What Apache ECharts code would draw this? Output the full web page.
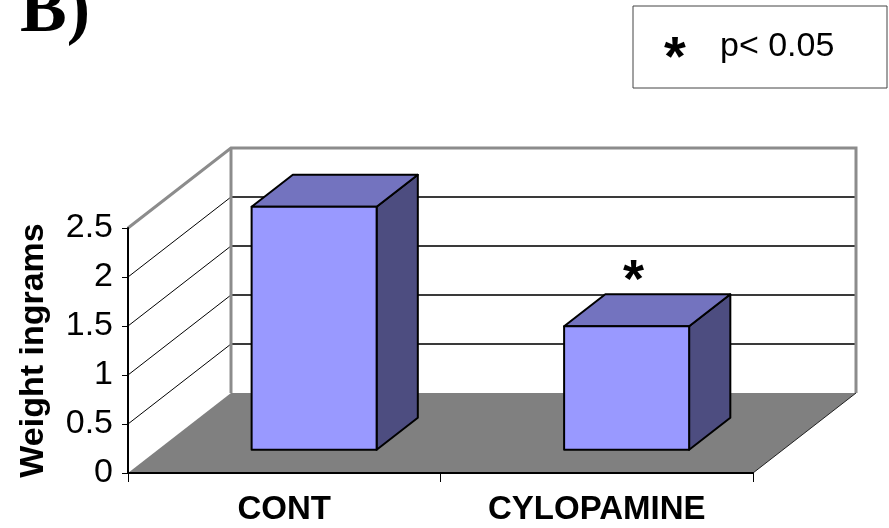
<!DOCTYPE html>
<html><head><meta charset="utf-8">
<script src="https://cdn.jsdelivr.net/npm/echarts@6/dist/echarts.min.js"></script>
<style>html,body{margin:0;padding:0;background:#fff}#c{width:889px;height:528px}</style>
</head><body><div id="c"></div>
<script>
// ---- data ----
const categories = ['CONT', 'CYLOPAMINE'];
const weights = [2.48, 1.26];
const significance = ['', '*'];
const yTicks = [0, 0.5, 1, 1.5, 2, 2.5];
const panelLabel = 'B)';
const yName = 'Weight ingrams';
const legendSymbol = '*';
const legendText = 'p< 0.05';

// ---- 3D look constants (pixels) ----
const DX = 103, DY = -80;        // depth offset of back wall
const FRONT = 0.29, BACK = 0.69; // bar depth fractions
const BAR_FRAC = 0.4;            // bar width as fraction of band
const yMax = yTicks[yTicks.length - 1];
const FONT = '"Liberation Sans", Arial, sans-serif';

const chart = echarts.init(document.getElementById('c'));

function renderFrame(params, api) {
  const cs = params.coordSys;
  const x0 = cs.x, x1 = cs.x + cs.width;
  const yb = api.coord([0, 0])[1];
  const yt = api.coord([0, yMax])[1];
  const ch = [];
  ch.push({type: 'rect', shape: {x: x0 + DX, y: yt + DY, width: x1 - x0, height: yb - yt},
    style: {fill: '#ffffff'}});
  ch.push({type: 'polygon', shape: {points: [[x0, yb], [x1, yb], [x1 + DX, yb + DY], [x0 + DX, yb + DY]]},
    style: {fill: '#808080'}});
  yTicks.forEach(function (v) {
    if (v === 0 || v === yMax) return;
    const y = api.coord([0, v])[1];
    ch.push({type: 'line', shape: {x1: x0 + DX, y1: y + DY, x2: x1 + DX, y2: y + DY},
      style: {stroke: '#3a3a3a', lineWidth: 2}});
    ch.push({type: 'line', shape: {x1: x0, y1: y, x2: x0 + DX, y2: y + DY},
      style: {stroke: '#000', lineWidth: 1}});
  });
  ch.push({type: 'polyline', shape: {points: [[x0, yt], [x0 + DX, yt + DY], [x1 + DX, yt + DY], [x1 + DX, yb + DY]]},
    style: {stroke: '#8c8c8c', lineWidth: 3, fill: null}});
  ch.push({type: 'line', shape: {x1: x0 + DX, y1: yt + DY, x2: x0 + DX, y2: yb + DY},
    style: {stroke: '#8c8c8c', lineWidth: 3}});
  ch.push({type: 'line', shape: {x1: x1, y1: yb, x2: x1 + DX, y2: yb + DY},
    style: {stroke: '#222', lineWidth: 1}});
  return {type: 'group', children: ch};
}

function renderBar(params, api) {
  const idx = api.value(0);
  const val = api.value(1);
  const top = api.coord([idx, val]);
  const base = api.coord([idx, 0]);
  const w = api.size([1, 0])[0] * BAR_FRAC;
  const fx = FRONT * DX, fy = FRONT * DY, bx = BACK * DX, by = BACK * DY;
  const l = top[0] - w / 2, r = top[0] + w / 2;
  const t = top[1], b = base[1];
  const st = {stroke: '#000', lineWidth: 2, lineJoin: 'round'};
  const ch = [
    {type: 'polygon', shape: {points: [[r + fx, t + fy], [r + bx, t + by], [r + bx, b + by], [r + fx, b + fy]]},
      style: Object.assign({fill: '#4d4d80'}, st)},
    {type: 'polygon', shape: {points: [[l + fx, t + fy], [r + fx, t + fy], [r + bx, t + by], [l + bx, t + by]]},
      style: Object.assign({fill: '#7373bf'}, st)},
    {type: 'rect', shape: {x: l + fx, y: t + fy, width: w, height: b - t},
      style: Object.assign({fill: '#9999ff'}, st)}
  ];
  const mark = significance[params.dataIndex];
  if (mark) {
    ch.push({type: 'text', x: top[0] + fx + 7, y: t + fy - 44,
      style: {text: mark, fill: '#000', font: 'bold 54px ' + FONT, align: 'center', verticalAlign: 'middle'}});
  }
  return {type: 'group', children: ch};
}

chart.setOption({
  backgroundColor: '#ffffff',
  animation: false,
  grid: {left: 128, right: 136, top: 228, bottom: 55},
  xAxis: {
    type: 'category', data: categories, z: 10,
    axisLine: {lineStyle: {color: '#000', width: 2}},
    axisTick: {show: true, alignWithLabel: false, length: 9, lineStyle: {color: '#000', width: 1}},
    axisLabel: {color: '#000', fontSize: 33, fontWeight: 'bold', fontFamily: FONT, margin: 20, interval: 0}
  },
  yAxis: {
    type: 'value', min: 0, max: yMax, interval: 0.5, z: 10,
    name: yName, nameLocation: 'middle', nameRotate: 90, nameGap: 77,
    nameTextStyle: {color: '#000', fontSize: 34, fontWeight: 'bold', fontFamily: FONT},
    axisLine: {show: true, lineStyle: {color: '#000', width: 2}},
    axisTick: {show: true, length: 6, lineStyle: {color: '#000', width: 1}},
    splitLine: {show: false},
    axisLabel: {color: '#000', fontSize: 34, fontFamily: FONT, margin: 15}
  },
  series: [
    {type: 'custom', name: 'frame', z: 1, clip: false, silent: true,
      data: [[0, 0]], renderItem: renderFrame},
    {type: 'custom', name: 'weight', z: 3, clip: false,
      data: weights.map(function (v, i) { return [i, v]; }), renderItem: renderBar}
  ],
  graphic: [
    {type: 'text', x: 20, y: 13,
      style: {text: panelLabel, font: 'bold 70px "Liberation Serif", "Times New Roman", serif', fill: '#000', align: 'left', verticalAlign: 'middle'}},
    {type: 'rect', shape: {x: 633, y: 6, width: 254, height: 82},
      style: {fill: '#fff', stroke: '#444', lineWidth: 1}},
    {type: 'text', x: 675, y: 60,
      style: {text: legendSymbol, font: 'bold 56px ' + FONT, fill: '#000', align: 'center', verticalAlign: 'middle'}},
    {type: 'text', x: 720, y: 47,
      style: {text: legendText, font: '34px ' + FONT, fill: '#000', align: 'left', verticalAlign: 'middle'}}
  ]
});
</script>
</body></html>
